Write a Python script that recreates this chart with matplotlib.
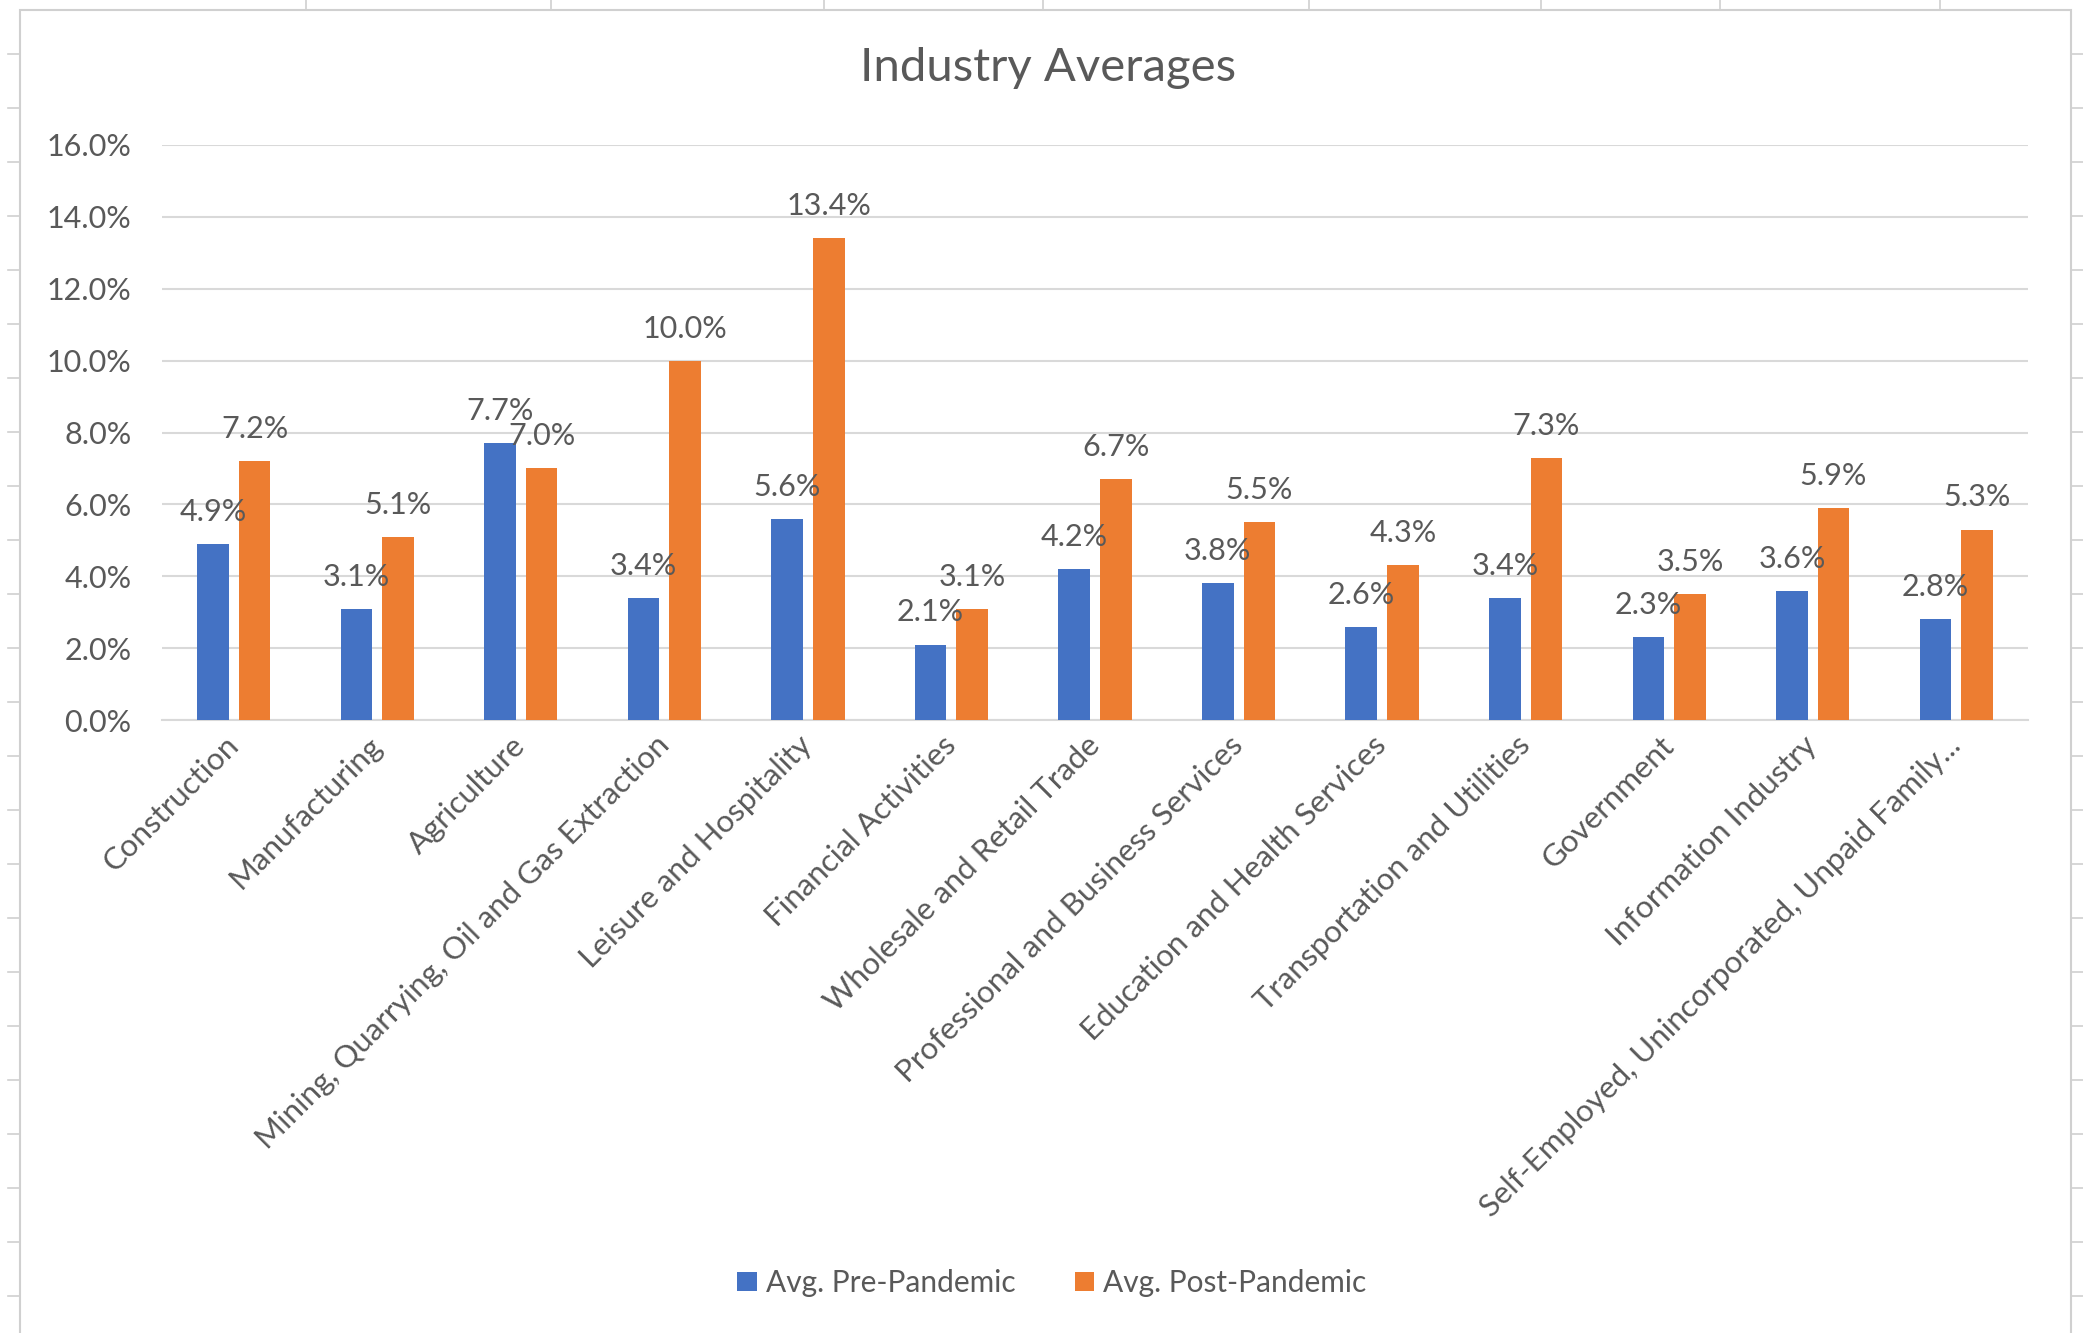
import matplotlib.pyplot as plt
import numpy as np
from matplotlib.patches import Rectangle
from matplotlib.lines import Line2D
from matplotlib.ticker import FuncFormatter

plt.rcParams['font.family'] = ['Lato', 'DejaVu Sans']

industries = ["Construction", "Manufacturing", "Agriculture",
              "Mining, Quarrying, Oil and Gas Extraction", "Leisure and Hospitality",
              "Financial Activities", "Wholesale and Retail Trade",
              "Professional and Business Services", "Education and Health Services",
              "Transportation and Utilities", "Government", "Information Industry",
              "Self-Employed, Unincorporated, Unpaid Family..."]
pre_pandemic = [4.9, 3.1, 7.7, 3.4, 5.6, 2.1, 4.2, 3.8, 2.6, 3.4, 2.3, 3.6, 2.8]
post_pandemic = [7.2, 5.1, 7.0, 10.0, 13.4, 3.1, 6.7, 5.5, 4.3, 7.3, 3.5, 5.9, 5.3]
y_ticks = [0, 2, 4, 6, 8, 10, 12, 14, 16]

blue = '#4472C4'
orange = '#ED7D31'
txt = '#595959'
grid = '#D9D9D9'

W, H = 2083, 1333
fig = plt.figure(figsize=(W / 100, H / 100), dpi=100)

# spreadsheet frame around the chart object
fig.patches.append(Rectangle((20 / W, -0.05), 2051 / W, 1 - 10 / H + 0.05,
                             transform=fig.transFigure, fill=False,
                             edgecolor='#D0D0D0', linewidth=1.5))
for xc in [306, 551, 824, 1043, 1309, 1541, 1720, 1940]:
    fig.lines.append(Line2D([xc / W, xc / W], [1 - 10 / H, 1.0],
                            transform=fig.transFigure, color='#D0D0D0', lw=1.2))
for yr in np.arange(54, H, 54):
    fig.lines.append(Line2D([8 / W, 20 / W], [1 - yr / H, 1 - yr / H],
                            transform=fig.transFigure, color='#D0D0D0', lw=1.2))
    fig.lines.append(Line2D([2071 / W, 2083 / W], [1 - yr / H, 1 - yr / H],
                            transform=fig.transFigure, color='#D0D0D0', lw=1.2))

ax = fig.add_axes([162 / W, 1 - 720 / H, 1866 / W, 575 / H])

x = np.arange(len(industries))
bw = 0.22
gap = 0.07
b1 = ax.bar(x - (bw + gap) / 2, pre_pandemic, bw, color=blue, label='Avg. Pre-Pandemic', zorder=3)
b2 = ax.bar(x + (bw + gap) / 2, post_pandemic, bw, color=orange, label='Avg. Post-Pandemic', zorder=3)

for bars, vals in [(b1, pre_pandemic), (b2, post_pandemic)]:
    for r, v in zip(bars, vals):
        ax.annotate(f"{v:.1f}%", (r.get_x() + r.get_width() / 2, v),
                    xytext=(0, 13), textcoords='offset points',
                    ha='center', va='bottom', fontsize=22, color=txt, zorder=4)

ax.set_xlim(-0.5, len(industries) - 0.5)
ax.set_ylim(0, 16)
ax.set_yticks(y_ticks)
ax.yaxis.set_major_formatter(FuncFormatter(lambda v, p: f"{v:.1f}%"))
ax.grid(axis='y', color=grid, linewidth=1.5, zorder=0)
for s in ['top', 'right', 'left']:
    ax.spines[s].set_visible(False)
ax.spines['bottom'].set_color(grid)
ax.spines['bottom'].set_linewidth(1.5)
ax.tick_params(axis='y', length=0, pad=22, labelsize=22, labelcolor=txt)
ax.tick_params(axis='x', length=0, pad=15, labelsize=22.5, labelcolor=txt)
ax.set_xticks(x)
ax.set_xticklabels(industries, rotation=45, ha='right', va='center', rotation_mode='anchor')

fig.text(0.503, 1 - 68 / H, "Industry Averages", ha='center', va='center',
         fontsize=34, color=txt)

fig.legend(handles=[b1, b2], loc='center', bbox_to_anchor=(0.505, 1 - 1283 / H),
           ncol=2, frameon=False, fontsize=21.5, labelcolor=txt,
           handlelength=0.65, handleheight=0.65, handletextpad=0.3, columnspacing=2.0)

fig.savefig('out.png', dpi=100, facecolor='white')
